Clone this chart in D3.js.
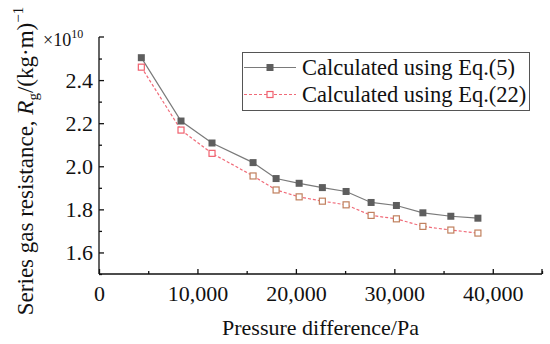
<!DOCTYPE html>
<meta charset="utf-8">
<script src="https://cdn.jsdelivr.net/npm/d3@7"></script>
<style>
    body { margin: 0; background: #fff; }
    svg text { font-family: "Liberation Serif", "DejaVu Serif", serif; fill: #111; }
    .axis path, .axis line { stroke: #111; stroke-width: 1.3; fill: none; }
</style>
<body>
<script>

    // pressure difference (Pa)
    var pressure = [4300, 8330, 11480, 15650, 17990, 20330, 22690, 25100, 27640, 30210, 32900, 35740, 38490]
    // resistance, x 1e10
    var eq5  = [2.504, 2.210, 2.108, 2.017, 1.943, 1.921, 1.901, 1.883, 1.832, 1.818, 1.784, 1.768, 1.759]
    var eq22 = [2.460, 2.168, 2.060, 1.955, 1.890, 1.858, 1.838, 1.821, 1.772, 1.756, 1.721, 1.704, 1.690]
    var seriesNames = ["Calculated using Eq.(5)", "Calculated using Eq.(22)"]
    var xTicks = [0, 10000, 20000, 30000, 40000]
    var yTicks = [1.6, 1.8, 2.0, 2.2, 2.4]

    var W = 550, H = 344
    var mLeft = 99, mTop = 37, mRight = 542, mBottom = 274

    var svg = d3.select("body").append("svg").attr("width", W).attr("height", H)

    var x = d3.scaleLinear().domain([0, 45000]).range([mLeft, mRight])
    var y = d3.scaleLinear().domain([1.5, 2.6]).range([mBottom, mTop])

    // minor ticks
    var xMinor = d3.axisBottom(x).tickValues(d3.range(5000, 45001, 10000)).tickSize(-3).tickFormat("")
    var yMinor = d3.axisLeft(y).tickValues([1.5, 1.7, 1.9, 2.1, 2.3, 2.5]).tickSize(-3).tickFormat("")
    svg.append("g").attr("class", "axis").attr("transform", "translate(0," + mBottom + ")").call(xMinor).select(".domain").remove()
    svg.append("g").attr("class", "axis").attr("transform", "translate(" + mLeft + ",0)").call(yMinor).select(".domain").remove()

    var xAxis = d3.axisBottom(x).tickValues(xTicks).tickSize(-5).tickSizeOuter(0).tickPadding(11)
        .tickFormat(d3.format(","))
    var yAxis = d3.axisLeft(y).tickValues(yTicks).tickSize(-5).tickSizeOuter(0).tickPadding(6)
        .tickFormat(d3.format(".1f"))

    var gx = svg.append("g").attr("class", "axis").attr("transform", "translate(0," + mBottom + ")").call(xAxis)
    gx.selectAll("text").style("font-size", "22px")
    gx.select(".domain").attr("d", "M" + mLeft + ",0H" + mRight)
    var gy = svg.append("g").attr("class", "axis").attr("transform", "translate(" + mLeft + ",0)").call(yAxis)
    gy.selectAll("text").style("font-size", "22px")
    gy.select(".domain").attr("d", "M0," + mBottom + "V" + mTop)

    // end caps of the axes
    svg.append("line").attr("x1", mRight).attr("x2", mRight).attr("y1", mBottom).attr("y2", mBottom - 5).attr("stroke", "#111").attr("stroke-width", 1.3)
    svg.append("line").attr("x1", mLeft).attr("x2", mLeft + 5).attr("y1", mTop).attr("y2", mTop).attr("stroke", "#111").attr("stroke-width", 1.3)

    // x10^10
    var mult = svg.append("text").attr("x", 43).attr("y", 46).style("font-size", "18px")
    mult.append("tspan").text("×10")
    mult.append("tspan").attr("dy", -8).style("font-size", "12px").text("10")

    // axis titles
    svg.append("text").attr("x", (mLeft + mRight) / 2).attr("y", 335).attr("text-anchor", "middle")
        .style("font-size", "22px").text("Pressure difference/Pa")

    var yt = svg.append("text").attr("transform", "translate(33,161) rotate(-90)").attr("text-anchor", "middle")
        .style("font-size", "23px")
    yt.append("tspan").text("Series gas resistance, ")
    yt.append("tspan").style("font-style", "italic").text("R")
    yt.append("tspan").attr("dy", 5).style("font-size", "15px").text("g")
    yt.append("tspan").attr("dy", -5).text("/(kg·m)")
    yt.append("tspan").attr("dy", -10).style("font-size", "15px").text("−1")

    var line = d3.line().x((d) => x(d[0])).y((d) => y(d[1]))
    var s1 = pressure.map((p, i) => [p, eq5[i]])
    var s2 = pressure.map((p, i) => [p, eq22[i]])

    svg.append("path").datum(s1).attr("d", line).attr("fill", "none").attr("stroke", "#7a7a7a").attr("stroke-width", 1.2)
    svg.append("path").datum(s2).attr("d", line).attr("fill", "none").attr("stroke", "#f06a78").attr("stroke-width", 1.2).attr("stroke-dasharray", "3,2")

    var ms = 7
    svg.selectAll(".m1").data(s1).enter().append("rect")
        .attr("x", (d) => x(d[0]) - ms / 2).attr("y", (d) => y(d[1]) - ms / 2)
        .attr("width", ms).attr("height", ms).attr("fill", "#5e5e5e")
    svg.selectAll(".m2").data(s2).enter().append("rect")
        .attr("x", (d) => x(d[0]) - ms / 2 + 0.5).attr("y", (d) => y(d[1]) - ms / 2 + 0.5)
        .attr("width", ms - 1).attr("height", ms - 1).attr("fill", "#fff")
        .attr("stroke", (d, i) => i < 3 ? "#f0606e" : "#c0805e").attr("stroke-width", 1.2)

    // legend
    var lg = svg.append("g")
    lg.append("rect").attr("x", 242.5).attr("y", 52.5).attr("width", 287).attr("height", 58)
        .attr("fill", "#fff").attr("stroke", "#555").attr("stroke-width", 1)
    seriesNames.forEach((name, i) => {
        var ly = 67.5 + i * 27
        lg.append("line").attr("x1", 244).attr("x2", 296).attr("y1", ly).attr("y2", ly)
            .attr("stroke", i == 0 ? "#7a7a7a" : "#f06a78").attr("stroke-width", 1.2)
            .attr("stroke-dasharray", i == 0 ? null : "3,2")
        if (i == 0) {
            lg.append("rect").attr("x", 270 - ms / 2).attr("y", ly - ms / 2).attr("width", ms).attr("height", ms).attr("fill", "#5e5e5e")
        } else {
            lg.append("rect").attr("x", 270 - ms / 2 + 0.5).attr("y", ly - ms / 2 + 0.5).attr("width", ms - 1).attr("height", ms - 1)
                .attr("fill", "#fff").attr("stroke", "#f0606e").attr("stroke-width", 1.2)
        }
        lg.append("text").attr("x", 302).attr("y", ly + 7.5).style("font-size", "22.5px").text(name)
    })

</script>
</body>
</html>
